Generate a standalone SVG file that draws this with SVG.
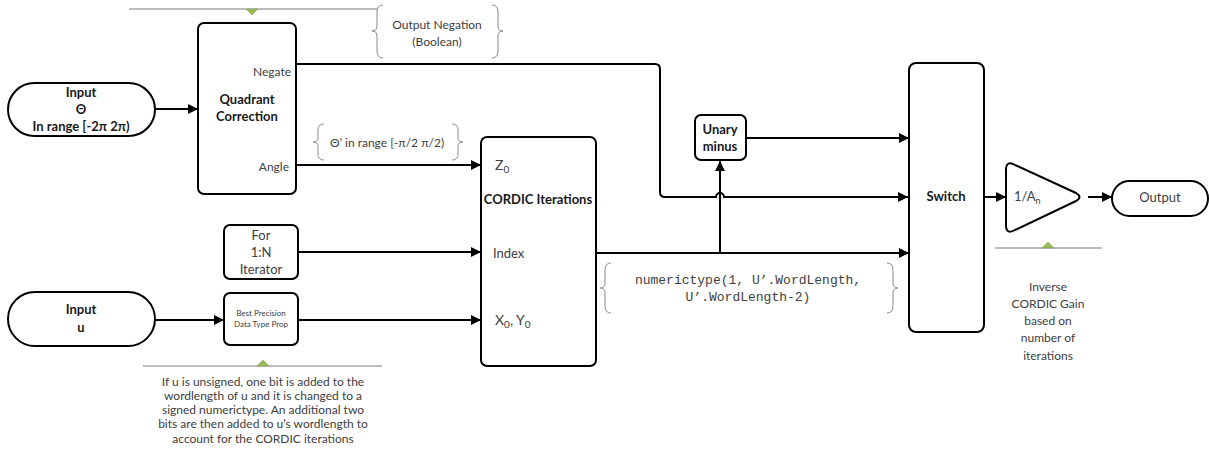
<svg xmlns="http://www.w3.org/2000/svg" width="1209" height="450" viewBox="0 0 1209 450">
<style>
.box{fill:#fff;stroke:#000;stroke-width:2}
.wire{fill:none;stroke:#000;stroke-width:2}
.note{fill:none;stroke:#7a7a7a;stroke-width:1}
.brace{fill:none;stroke:#8a8a8a;stroke-width:1}
.tri{fill:#9bbb59;stroke:#7f9a4a;stroke-width:0.5}
.t{font-family:Lato,"Liberation Sans",sans-serif;font-size:12px;fill:#404040}
.s{font-size:8px}
.b{font-family:Lato,"Liberation Sans",sans-serif;font-size:13px;font-weight:bold;fill:#1a1a1a}
.m{font-family:"Liberation Mono","DejaVu Sans Mono",monospace;font-size:13px;fill:#404040}
.c{text-anchor:middle}
.r{text-anchor:end}
</style>
<defs>
<marker id="arr" viewBox="0 0 10 10" refX="10" refY="5" markerWidth="11" markerHeight="10" markerUnits="userSpaceOnUse" orient="auto">
<path d="M0,0 L10,5 L0,10 z" fill="#000"/>
</marker>
</defs>

<g id="connectors">
<path class="wire" d="M155,109 H198" marker-end="url(#arr)"/>
<path class="wire" d="M296,64 H655 Q660,64 660,69 V192 Q660,197 665,197 H716 A4,4 0 0 1 724,197 H908" marker-end="url(#arr)"/>
<path class="wire" d="M296,165 H481" marker-end="url(#arr)"/>
<path class="wire" d="M298,252 H481" marker-end="url(#arr)"/>
<path class="wire" d="M155,320 H224" marker-end="url(#arr)"/>
<path class="wire" d="M298,320 H481" marker-end="url(#arr)"/>
<path class="wire" d="M596,253 H909" marker-end="url(#arr)"/>
<path class="wire" d="M720,253 V161" marker-end="url(#arr)"/>
<path class="wire" d="M746,138 H909" marker-end="url(#arr)"/>
<path class="wire" d="M984,197 H1006" marker-end="url(#arr)"/>
<path class="wire" d="M1088,197 H1112" marker-end="url(#arr)"/>
</g>

<g id="note-top">
<line class="note" x1="129" y1="9" x2="377" y2="9"/>
<path class="tri" d="M246,9 L258,9 L252,15 z"/>
</g>

<g id="input-theta">
<rect class="box" x="8" y="83" width="147" height="53" rx="26.5"/>
<text class="b c" x="81" y="97">Input</text>
<text class="b c" x="81" y="114">Θ</text>
<text class="b c" x="81" y="131">In range [-2π 2π)</text>
</g>

<g id="quadrant">
<rect class="box" x="198" y="23" width="98" height="171" rx="6"/>
<text class="t r" x="291" y="76">Negate</text>
<text class="b c" x="247" y="104">Quadrant</text>
<text class="b c" x="247" y="121">Correction</text>
<text class="t r" x="289" y="171">Angle</text>
</g>

<g id="output-negation">
<path class="brace" d="M383,5 Q377,5 377,12 V26 Q377,31 372,31 Q377,31 377,36 V51 Q377,58 383,58"/>
<path class="brace" d="M492,5 Q498,5 498,12 V26 Q498,31 503,31 Q498,31 498,36 V51 Q498,58 492,58"/>
<text class="t c" x="437" y="29">Output Negation</text>
<text class="t c" x="437" y="46">(Boolean)</text>
</g>

<g id="theta-prime">
<path class="brace" d="M324,124 Q318,124 318,130 V138 Q318,142 313,142 Q318,142 318,146 V154 Q318,160 324,160"/>
<path class="brace" d="M452,124 Q458,124 458,130 V138 Q458,142 463,142 Q458,142 458,146 V154 Q458,160 452,160"/>
<text class="t c" x="387" y="147">Θ’ in range [-π/2 π/2)</text>
</g>

<g id="cordic">
<rect class="box" x="481" y="137" width="115" height="229" rx="6"/>
<text class="t" x="495" y="170" style="font-size:14px">Z<tspan style="font-size:10px" dy="3">0</tspan></text>
<text class="b c" x="538" y="204">CORDIC Iterations</text>
<text class="t" x="493" y="258" style="font-size:13px">Index</text>
<text class="t" x="495" y="325" style="font-size:14px">X<tspan style="font-size:10px" dy="3">0</tspan><tspan dy="-3">, Y</tspan><tspan style="font-size:10px" dy="3">0</tspan></text>
</g>

<g id="iterator">
<rect class="box" x="224" y="225" width="74" height="54" rx="6"/>
<text class="t c" x="261" y="240" style="font-size:13px">For</text>
<text class="t c" x="261" y="257" style="font-size:13px">1:N</text>
<text class="t c" x="261" y="274" style="font-size:13px">Iterator</text>
</g>

<g id="input-u">
<rect class="box" x="8" y="292" width="147" height="54" rx="27"/>
<text class="b c" x="81" y="314">Input</text>
<text class="b c" x="81" y="332">u</text>
</g>

<g id="best-precision">
<rect class="box" x="224" y="293" width="74" height="52" rx="6"/>
<text class="t s c" x="261" y="316">Best Precision</text>
<text class="t s c" x="261" y="327">Data Type Prop</text>
</g>

<g id="note-bottom">
<line class="note" x1="143" y1="366" x2="382" y2="366"/>
<path class="tri" d="M257,366 L269,366 L263,360 z"/>
<text class="t c" x="263" y="386">If u is unsigned, one bit is added to the</text>
<text class="t c" x="263" y="400">wordlength of u and it is changed to a</text>
<text class="t c" x="263" y="414">signed numerictype. An additional two</text>
<text class="t c" x="263" y="428">bits are then added to u’s wordlength to</text>
<text class="t c" x="263" y="443">account for the CORDIC iterations</text>
</g>

<g id="unary-minus">
<rect class="box" x="695" y="115" width="51" height="45" rx="6"/>
<text class="b c" x="720" y="134">Unary</text>
<text class="b c" x="720" y="151">minus</text>
</g>

<g id="numerictype">
<path class="brace" d="M611,263 Q605,263 605,270 V283 Q605,288 600,288 Q605,288 605,293 V306 Q605,313 611,313"/>
<path class="brace" d="M887,263 Q893,263 893,270 V283 Q893,288 898,288 Q893,288 893,293 V306 Q893,313 887,313"/>
<text class="m c" x="748" y="284">numerictype(1, U’.WordLength,</text>
<text class="m c" x="748" y="301">U’.WordLength-2)</text>
</g>

<g id="switch">
<rect class="box" x="909" y="63" width="75" height="269" rx="7"/>
<text class="b c" x="946" y="201">Switch</text>
</g>

<g id="gain">
<path class="box" d="M1006,170 Q1006,160 1015,165 L1076,193 Q1083,197 1076,201 L1015,230 Q1006,235 1006,225 z"/>
<text class="t" x="1014" y="201" style="font-size:13px">1/A<tspan style="font-size:9px" dy="3">n</tspan></text>
</g>

<g id="output">
<rect class="box" x="1112" y="181" width="96" height="35" rx="17.5"/>
<text class="t c" x="1160" y="202" style="font-size:13px">Output</text>
</g>

<g id="note-gain">
<line class="note" x1="995" y1="248" x2="1102" y2="248"/>
<path class="tri" d="M1042,248 L1054,248 L1048,242 z"/>
<text class="t c" x="1048" y="291">Inverse</text>
<text class="t c" x="1048" y="308">CORDIC Gain</text>
<text class="t c" x="1048" y="325">based on</text>
<text class="t c" x="1048" y="342">number of</text>
<text class="t c" x="1048" y="360">iterations</text>
</g>
</svg>
